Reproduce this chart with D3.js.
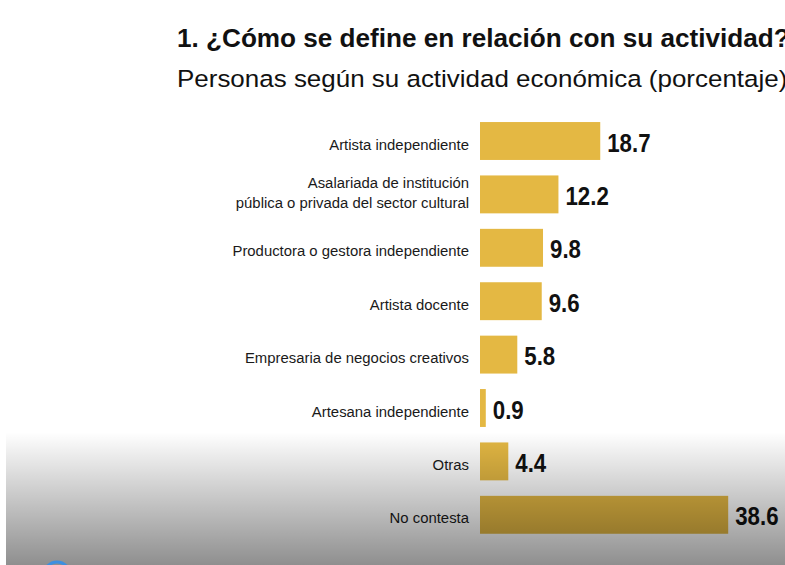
<!DOCTYPE html>
<html>
<head>
<meta charset="utf-8">
<script src="https://cdn.jsdelivr.net/npm/d3@7"></script>
<style>
  html, body { margin: 0; padding: 0; background: #fff; overflow: hidden; }
  svg { display: block; }
  text { font-family: "Liberation Sans", Arial, sans-serif; }
</style>
</head>
<body>
<svg id="chart" width="785" height="565"></svg>
<script>
// Actividad económica declarada (porcentaje de personas)
const categories = [
  ["Artista independiente"],
  ["Asalariada de institución", "pública o privada del sector cultural"],
  ["Productora o gestora independiente"],
  ["Artista docente"],
  ["Empresaria de negocios creativos"],
  ["Artesana independiente"],
  ["Otras"],
  ["No contesta"]
];
const values = [18.7, 12.2, 9.8, 9.6, 5.8, 0.9, 4.4, 38.6];
const valueLabels = ["18.7", "12.2", "9.8", "9.6", "5.8", "0.9", "4.4", "38.6"];
const title = "1. ¿Cómo se define en relación con su actividad?";
const subtitle = "Personas según su actividad económica (porcentaje)";

const svg = d3.select("#chart");
const W = 785, H = 565;

const rows = categories.map((c, i) => ({ key: c.join(" "), lines: c, value: values[i], label: valueLabels[i] }));

const x = d3.scaleLinear().domain([0, 40]).range([480, 480 + 6.43 * 40]);
const y = d3.scaleBand()
  .domain(rows.map(d => d.key))
  .range([114.3, 541.5])
  .paddingInner(0.29)
  .paddingOuter(0.145);

// text at (px, py) with a horizontal stretch factor sx
function stretchedText(sel, px, py, sx) {
  return sel.append("g")
    .attr("transform", `translate(${px},${py}) scale(${sx},1)`)
    .append("text");
}

// Heading
stretchedText(svg, 177, 47, 1.025)
  .attr("font-size", 25.5).attr("font-weight", "bold").attr("fill", "#111")
  .text(title);
stretchedText(svg, 177, 87, 1.06)
  .attr("font-size", 24.5).attr("fill", "#111")
  .text(subtitle);

// Bars
svg.append("g").selectAll("rect")
  .data(rows).join("rect")
  .attr("x", x(0))
  .attr("y", d => y(d.key))
  .attr("width", d => x(d.value) - x(0))
  .attr("height", y.bandwidth())
  .attr("fill", "#E4B843");

// Category labels, right-aligned against the bars
rows.forEach(d => {
  const t = stretchedText(svg, x(0) - 11, y(d.key) + y.bandwidth() / 2, 0.96)
    .attr("text-anchor", "end")
    .attr("font-size", 15.5)
    .attr("fill", "#1a1a1a");
  if (d.lines.length === 1) {
    t.append("tspan").attr("x", 0).attr("dy", 8.5).text(d.lines[0]);
  } else {
    t.append("tspan").attr("x", 0).attr("dy", -6).text(d.lines[0]);
    t.append("tspan").attr("x", 0).attr("dy", 20).text(d.lines[1]);
  }
});

// Value labels
rows.forEach(d => {
  stretchedText(svg, x(d.value) + 7, y(d.key) + y.bandwidth() / 2 + 10.5, 0.84)
    .attr("font-size", 26.5)
    .attr("font-weight", "bold")
    .attr("fill", "#111")
    .text(d.label);
});

// Darkening wash along the bottom of the frame
const defs = svg.append("defs");
const grad = defs.append("linearGradient")
  .attr("id", "wash").attr("x1", 0).attr("y1", 0).attr("x2", 0).attr("y2", 1);
grad.append("stop").attr("offset", 0).attr("stop-color", "#000").attr("stop-opacity", 0);
grad.append("stop").attr("offset", 1).attr("stop-color", "#000").attr("stop-opacity", 0.44);
svg.append("rect")
  .attr("x", 6).attr("y", 432).attr("width", W - 6).attr("height", H - 432)
  .attr("fill", "url(#wash)");

// Small player badge peeking in at the lower left
svg.append("circle")
  .attr("cx", 57).attr("cy", 575).attr("r", 13)
  .attr("fill", "none").attr("stroke", "#3d8fe0").attr("stroke-width", 3);
</script>
</body>
</html>
